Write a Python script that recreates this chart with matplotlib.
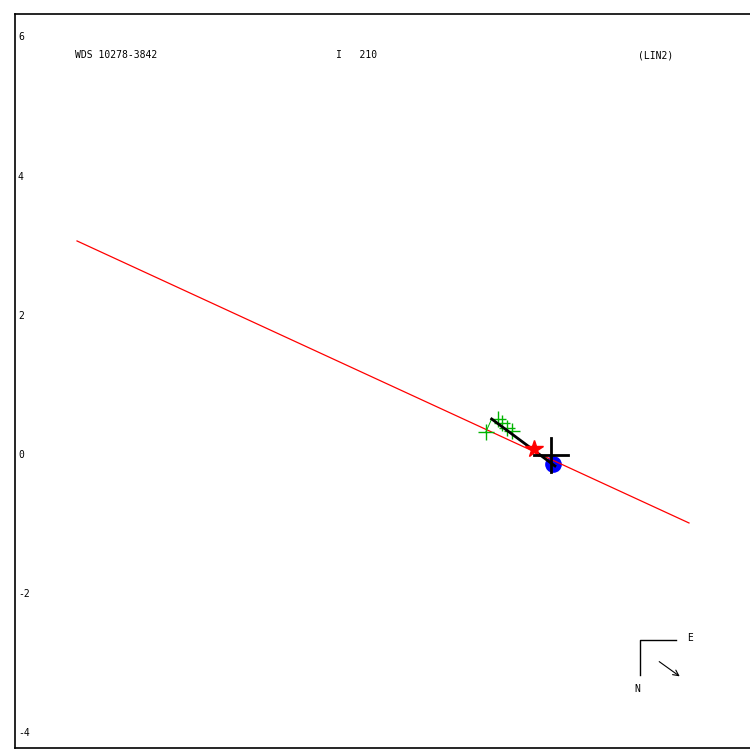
import matplotlib
matplotlib.use("Agg")
import matplotlib.pyplot as plt

# orbit line (red), observations (green), path (black), positions
orbit_x = [-6.810, 1.983]
orbit_y = [3.075, -0.977]
obs_x = [-0.934, -0.766, -0.700, -0.636, -0.556]
obs_y = [0.335, 0.513, 0.455, 0.384, 0.349]
path_x = [-0.852, 0.057]
path_y = [0.517, -0.158]
star_x, star_y = [-0.244], [0.082]
circ_x, circ_y = [0.033], [-0.129]
yticks = [6, 4, 2, 0, -2, -4]
header = ["WDS 10278-3842", "I   210", "(LIN2)"]

fig = plt.figure(figsize=(7.5, 7.5), dpi=100)
ax = fig.add_axes([0.02, 0.00267, 0.9933, 0.9787])
ax.set_xlim(-7.701, 3.003)
ax.set_ylim(-4.210, 6.336)
ax.set_xticks([])
ax.set_yticks([])
ax.spines['right'].set_visible(False)
for s in ['left', 'top', 'bottom']:
    ax.spines[s].set_linewidth(1.2)

mono = dict(family='DejaVu Sans Mono', fontsize=7)
grn = '#00b400'

ax.plot(circ_x, circ_y, 'o', color='blue', ms=11, zorder=2)
ax.plot(orbit_x, orbit_y, color='red', lw=0.9, zorder=3)
ax.plot([obs_x[0], path_x[0]], [obs_y[0], path_y[0]], color=grn, lw=0.7, zorder=3)
ax.plot(obs_x, obs_y, '+', color=grn, ms=11, mew=1, ls='none', zorder=4)
ax.plot(path_x, path_y, color='black', lw=2, zorder=5)
ax.plot(star_x, star_y, '*', color='red', ms=13, zorder=6)
ax.plot([-0.25, 0.25], [0, 0], color='black', lw=2, zorder=7)
ax.plot([0, 0], [-0.25, 0.25], color='black', lw=2, zorder=7)

ytr = ax.get_yaxis_transform()
for v in yticks:
    ax.text(0.004, v, str(v), transform=ytr, va='center', ha='left', **mono)

for xpos, t in zip([0.0805, 0.431, 0.836], header):
    ax.text(xpos, 0.944, t, transform=ax.transAxes, va='center', ha='left', **mono)

# compass
ax.plot([0.887, 0.839, 0.839], [0.147, 0.147, 0.0995], color='black', lw=1,
        transform=ax.transAxes)
ax.text(0.906, 0.150, "E", transform=ax.transAxes, va='center', ha='center', **mono)
ax.text(0.835, 0.080, "N", transform=ax.transAxes, va='center', ha='center', **mono)
ax.annotate("", xy=(0.8953, 0.0954), xytext=(0.8617, 0.1199),
            xycoords='axes fraction', textcoords='axes fraction',
            arrowprops=dict(arrowstyle='->', color='black', lw=0.8))

fig.savefig("out.png", dpi=100)
